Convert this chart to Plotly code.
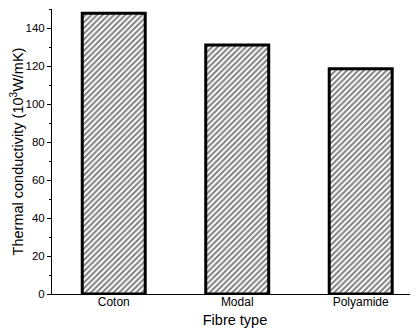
import plotly.graph_objects as go

categories = ["Coton", "Modal", "Polyamide"]
values = [147.7, 131.0, 118.6]
y_ticks = [0, 20, 40, 60, 80, 100, 120, 140]

fig = go.Figure(go.Bar(
    x=categories, y=values, width=0.51,
    marker=dict(color="white", line=dict(color="black", width=3),
                pattern=dict(shape="/", fgcolor="black", bgcolor="white", size=4, solidity=0.5)),
))

font = "Liberation Sans, Arial, sans-serif"
# page body has an 8px default margin, so the figure is sized to fit the window
fig.update_layout(
    width=410, height=321,
    margin=dict(l=44, r=0, t=1, b=35),
    paper_bgcolor="white", plot_bgcolor="white",
    showlegend=False,
    font=dict(family=font, color="black"),
)
fig.update_xaxes(
    range=[-0.5, 2.464], showline=True, linecolor="black", linewidth=1,
    ticks="", tickfont=dict(size=12), showgrid=False, automargin=False,
    ticklabelstandoff=-3,
    title=dict(text="Fibre type", font=dict(size=14.5), standoff=6),
)
fig.update_yaxes(
    range=[0, 150], showline=True, linecolor="black", linewidth=1,
    tickvals=y_ticks, ticks="outside", ticklen=4, tickwidth=1, tickcolor="black",
    minor=dict(dtick=10, ticks="outside", ticklen=2, tickcolor="black"),
    tickfont=dict(size=11.5), showgrid=False, zeroline=False, automargin=False,
    title=dict(text="Thermal conductivity (10<sup>3</sup>W/mK)", font=dict(size=14.5), standoff=3),
)
fig.write_html("out.html")
